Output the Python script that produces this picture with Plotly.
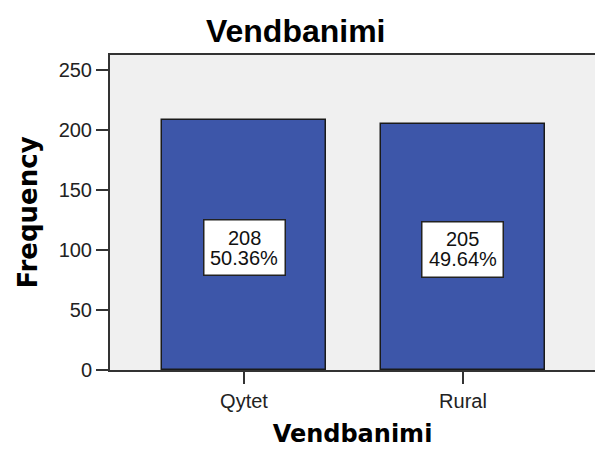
import plotly.graph_objects as go

categories = ["Qytet", "Rural"]
counts = [208, 205]
percents = ["50.36%", "49.64%"]
y_ticks = [0, 50, 100, 150, 200, 250]

bar_color = "#3D56A9"

fig = go.Figure()
fig.add_trace(go.Bar(
    x=categories, y=counts, width=0.753,
    marker=dict(color=bar_color, line=dict(color="#1a1a1a", width=1.5)),
    hoverinfo="skip",
))

label_font = dict(family="Liberation Sans, Arial", size=20, color="#111111")
for c, v, p in zip(categories, counts, percents):
    ymid = v / 2 - 2
    fig.add_annotation(
        x=c, y=ymid, xref="x", yref="y", text=" ", showarrow=False,
        bgcolor="white", bordercolor="#222222", borderwidth=1.5,
        borderpad=2, width=76, height=50,
    )
    fig.add_annotation(x=c, y=ymid, xref="x", yref="y", text=str(v),
                       showarrow=False, font=label_font, yshift=10)
    fig.add_annotation(x=c, y=ymid, xref="x", yref="y", text=p,
                       showarrow=False, font=label_font, yshift=-10)

fig.update_layout(
    width=595, height=456,
    margin=dict(l=110, r=0, t=55, b=86),
    paper_bgcolor="white", plot_bgcolor="#F0F0F0",
    showlegend=False,
    title=dict(text="<b>Vendbanimi</b>", x=0.497, xanchor="center",
               y=1 - 42 / 456, yanchor="bottom",
               font=dict(family="Liberation Sans, Arial", size=32, color="#000000")),
    bargap=0,
)
fig.update_xaxes(
    range=[-0.612, 1.603], showline=True, linecolor="#333333", linewidth=2,
    mirror=True, ticks="outside", ticklen=12, tickwidth=1.5, tickcolor="#333333",
    tickfont=dict(family="Liberation Sans, Arial", size=20, color="#222222"),
    title=dict(text="<b>Vendbanimi</b>", standoff=14,
               font=dict(family="DejaVu Sans", size=24, color="#000000")),
    showgrid=False, zeroline=False, fixedrange=True, automargin=False,
)
fig.update_yaxes(
    range=[0, 262.5], tickvals=y_ticks, showline=True, linecolor="#333333", linewidth=2,
    mirror=False, ticks="outside", ticklen=12, tickwidth=1.5, tickcolor="#333333",
    tickfont=dict(family="Liberation Sans, Arial", size=20, color="#222222"),
    title=dict(text="<b>Frequency</b>", standoff=14,
               font=dict(family="DejaVu Sans", size=26, color="#000000")),
    showgrid=False, zeroline=False, fixedrange=True, automargin=False,
)

fig.write_html("out.html", config={"displayModeBar": False},
               post_script="document.body.style.margin='0';document.body.style.overflow='hidden';document.documentElement.style.overflow='hidden';")
